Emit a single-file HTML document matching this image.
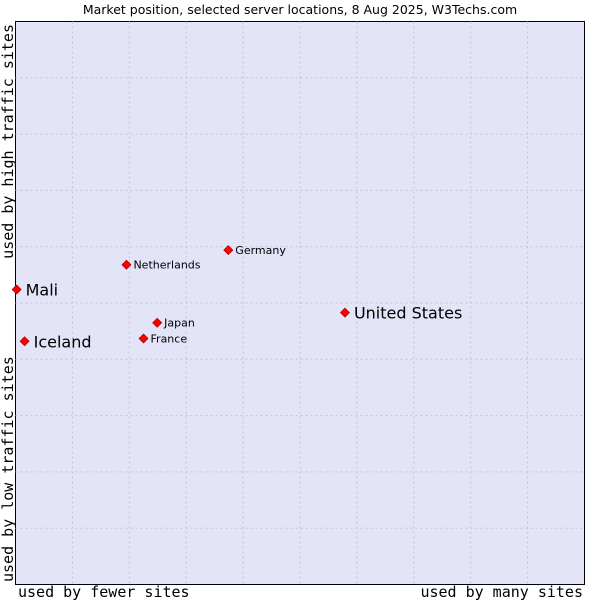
<!DOCTYPE html>
<html><head><meta charset="utf-8"><style>
body{margin:0;background:#fff;}
svg{display:block;font-family:"DejaVu Sans","Liberation Sans",sans-serif;}
</style></head><body>
<svg id="chart" width="600" height="600" viewBox="0 0 600 600">
<text x="300" y="14" text-anchor="middle" font-size="12.5" fill="#000">Market position, selected server locations, 8 Aug 2025, W3Techs.com</text>
<rect x="15.5" y="21.5" width="569" height="563" fill="#e3e4f8" stroke="#000" stroke-width="1"/>
<g id="grid"></g>
<g id="points"></g>
<text x="18" y="597" font-family="DejaVu Sans Mono,Liberation Mono,monospace" font-size="15">used by fewer sites</text>
<text x="583" y="597" text-anchor="end" font-family="DejaVu Sans Mono,Liberation Mono,monospace" font-size="15">used by many sites</text>
<text transform="translate(13,582) rotate(-90)" font-family="DejaVu Sans Mono,Liberation Mono,monospace" font-size="15">used by low traffic sites</text>
<text transform="translate(13,24) rotate(-90)" text-anchor="end" font-family="DejaVu Sans Mono,Liberation Mono,monospace" font-size="15">used by high traffic sites</text>
</svg>
<script>
const names=["Mali","Iceland","Netherlands","Germany","Japan","France","United States"];
const xValues=[0.2,1.6,19.5,37.4,24.9,22.5,57.9];
const yValues=[52.4,43.2,56.8,59.4,46.5,43.7,48.3];
const bigLabel=[true,true,false,false,false,false,true];
const L=15.5,R=584.5,T=21.5,B=584.5;
const sx=v=>L+(R-L)*v/100, sy=v=>B-(B-T)*v/100;
const NS="http://www.w3.org/2000/svg";
const g=document.getElementById('grid');
for(let i=1;i<10;i++){
 const v=document.createElementNS(NS,'line');
 
 
 v.setAttribute('x1',sx(i*10));v.setAttribute('x2',sx(i*10));v.setAttribute('y1',T);v.setAttribute('y2',B);
 v.setAttribute('stroke','#c4c4cc');v.setAttribute('stroke-dasharray','2,3');g.appendChild(v);
 const h=document.createElementNS(NS,'line');
 
 
 h.setAttribute('y1',sy(i*10));h.setAttribute('y2',sy(i*10));h.setAttribute('x1',L);h.setAttribute('x2',R);
 h.setAttribute('stroke','#c4c4cc');h.setAttribute('stroke-dasharray','2,3');g.appendChild(h);
}
const p=document.getElementById('points');
names.forEach((n,i)=>{
 const x=sx(xValues[i]),y=sy(yValues[i]);
 const m=document.createElementNS(NS,'path');
 
 
 m.setAttribute('d',`M${x},${y-4.5}L${x+4.5},${y}L${x},${y+4.5}L${x-4.5},${y}Z`);
 m.setAttribute('fill','#f00');m.setAttribute('stroke','#a00');m.setAttribute('stroke-width','0.7');
 p.appendChild(m);
 const t=document.createElementNS(NS,'text');
 
 
 const big=bigLabel[i];
 t.setAttribute('x',x+(big?9:7));t.setAttribute('y',y+(big?6:4));
 t.setAttribute('font-size',big?16:11);
 t.textContent=n;p.appendChild(t);
});
</script>
</body></html>
